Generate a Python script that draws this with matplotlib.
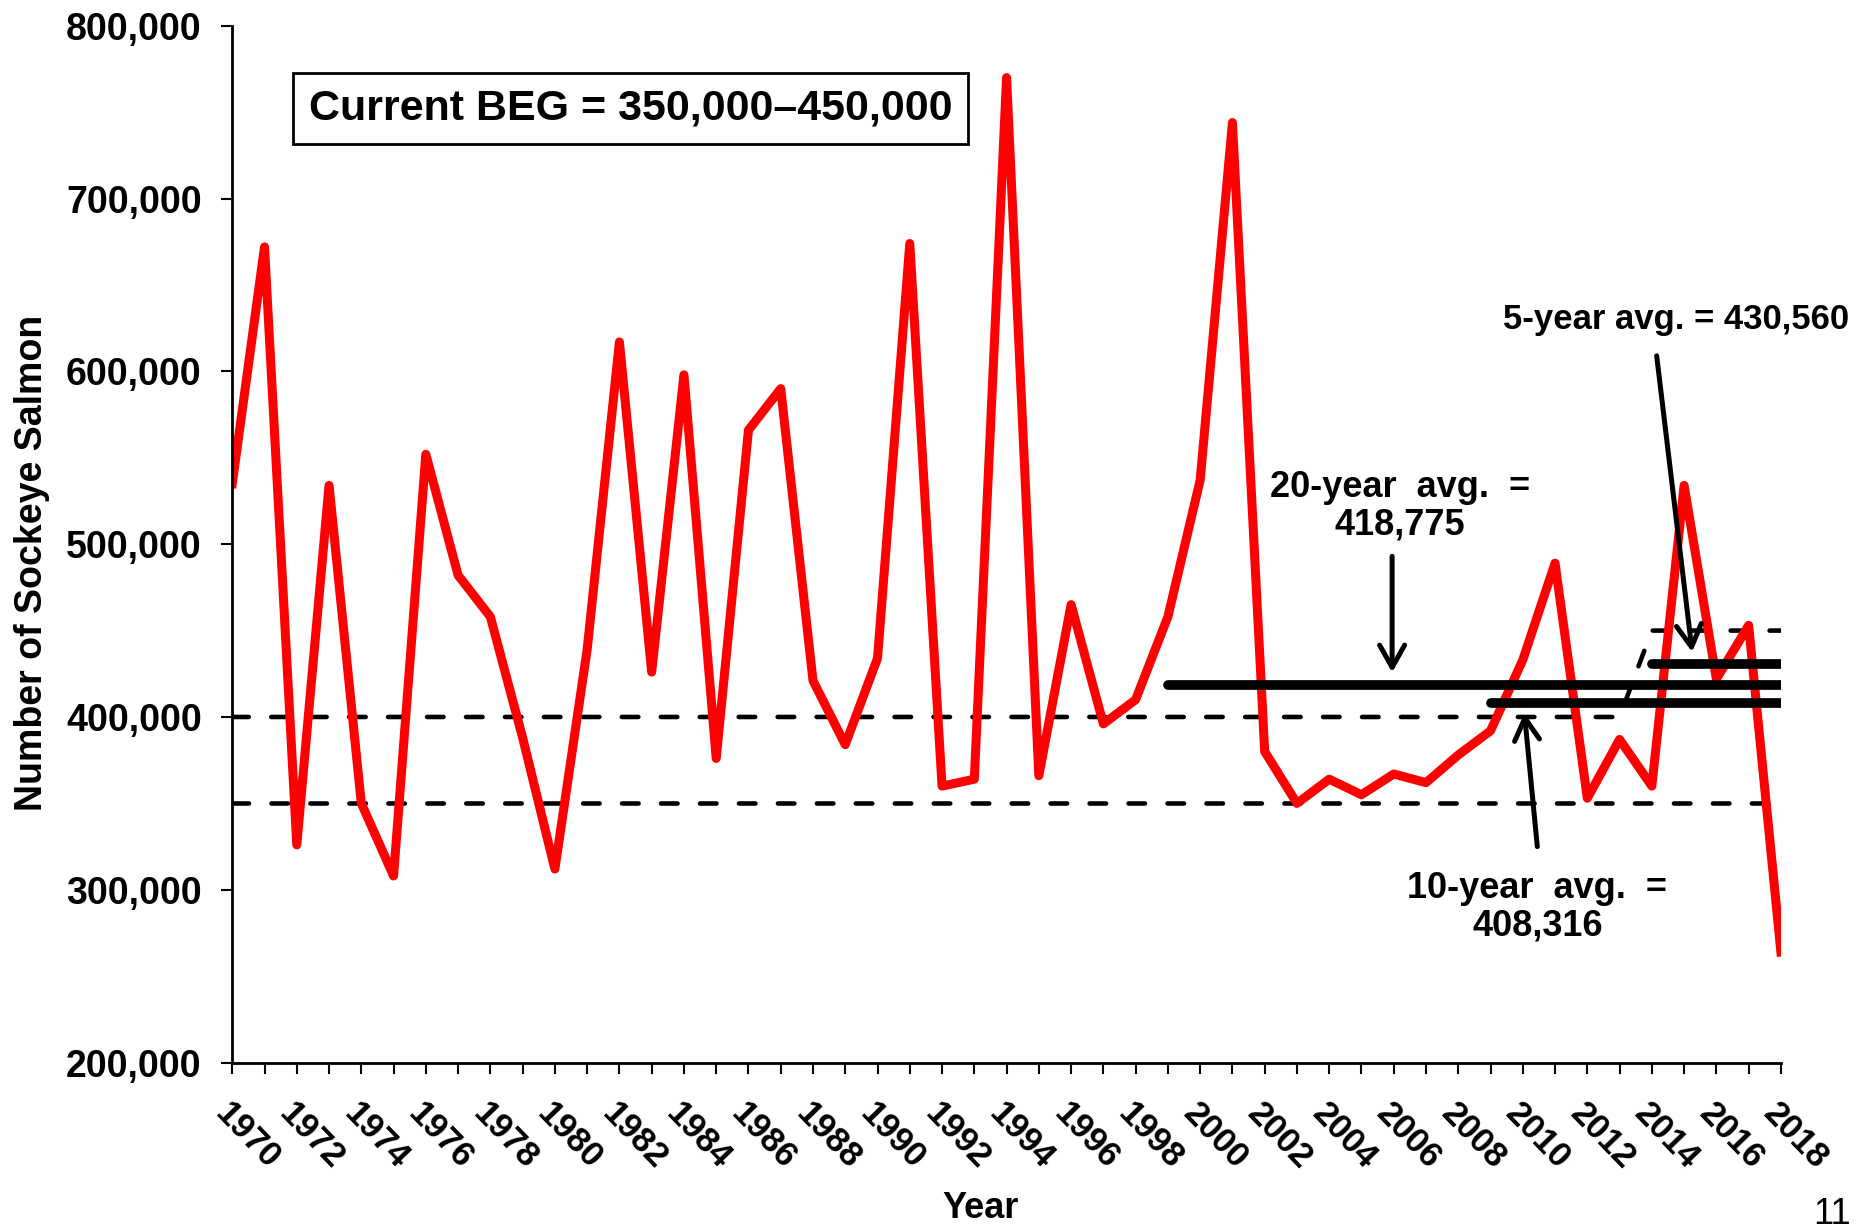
import matplotlib
matplotlib.use("Agg")
from matplotlib import pyplot as plt
from matplotlib.ticker import FuncFormatter, MultipleLocator

plt.rcParams['font.family'] = ['Liberation Sans', 'DejaVu Sans']
plt.rcParams['font.weight'] = 'bold'

years = list(range(1970, 2019))
escapement = [535000, 672000, 326000, 534000, 350000, 308000, 552000, 482000, 458000, 388000,
              312000, 439000, 617000, 426000, 598000, 376000, 566000, 590000, 421000, 384000,
              434000, 674000, 360000, 364000, 770000, 366000, 465000, 396000, 410000, 458000,
              537000, 744000, 380000, 350000, 364000, 355000, 367000, 362000, 378000, 392000,
              433000, 489000, 353000, 387000, 360000, 534000, 422000, 453000, 264000]

goal_years = [1970, 2013, 2014, 2018]
goal_upper = [400000, 400000, 450000, 450000]
goal_lower = 350000

avg_20 = 418775
avg_10 = 408316
avg_5 = 430560

fig = plt.figure(figsize=(18.58, 12.27), dpi=100)
ax = fig.add_axes([0.125, 0.134, 0.8335, 0.845])

dash = (0, (3.6, 4.9))
ax.plot(goal_years, goal_upper, color="black", lw=3.3, linestyle=dash, dash_capstyle="round")
ax.axhline(goal_lower, color="black", lw=3.3, linestyle=dash, dash_capstyle="round")

ax.plot(years, escapement, color="#ff0000", lw=6.5, solid_joinstyle="round")

ax.plot([1999, 2018], [avg_20, avg_20], color="black", lw=7, solid_capstyle="round")
ax.plot([2009, 2018], [avg_10, avg_10], color="black", lw=7, solid_capstyle="round")
ax.plot([2014, 2018], [avg_5, avg_5], color="black", lw=7, solid_capstyle="round")

arrow = dict(arrowstyle="->,head_length=0.8,head_width=0.45", color="black", lw=3.6,
             shrinkA=0, shrinkB=0, mutation_scale=20)
ax.annotate("", xy=(2005.95, avg_20 + 7000), xytext=(2005.95, 493000), arrowprops=arrow)
ax.annotate("", xy=(2010.05, avg_10 - 6000), xytext=(2010.45, 325000), arrowprops=arrow)
ax.annotate("", xy=(2015.25, avg_5 + 7000), xytext=(2014.15, 609000), arrowprops=arrow)

ax.text(2006.2, 522000, "20-year  avg.  =\n418,775", ha="center", va="center",
        fontsize=26, fontweight="bold", linespacing=1.1)
ax.text(2010.45, 290000, "10-year  avg.  =\n408,316", ha="center", va="center",
        fontsize=26, fontweight="bold", linespacing=1.1)
ax.text(2014.75, 630000, "5-year avg. = 430,560", ha="center", va="center",
        fontsize=25, fontweight="bold")

ax.text(0.257, 0.92, "Current BEG = 350,000\u2013450,000", transform=ax.transAxes,
        ha="center", va="center", fontsize=31, fontweight="bold",
        bbox=dict(boxstyle="square,pad=0.36", facecolor="white", edgecolor="black", lw=2))

ax.set_xlim(1970, 2018)
ax.set_ylim(200000, 800000)
ax.xaxis.set_major_locator(MultipleLocator(2))
ax.xaxis.set_minor_locator(MultipleLocator(1))
ax.yaxis.set_major_locator(MultipleLocator(100000))
ax.yaxis.set_major_formatter(FuncFormatter(lambda v, p: f"{int(v):,}"))

for s in ["top", "right"]:
    ax.spines[s].set_visible(False)
for s in ["left", "bottom"]:
    ax.spines[s].set_linewidth(2)

ax.tick_params(axis="y", which="major", direction="out", length=8, width=1.5, labelsize=27, pad=14)
ax.tick_params(axis="x", which="both", direction="out", length=8, width=1.5)
ax.tick_params(axis="x", which="major", labelsize=25, pad=17)
for lab in ax.get_xticklabels():
    lab.set_rotation(-46)
    lab.set_ha("left")
    lab.set_va("top")
    lab.set_rotation_mode("anchor")
    lab.set_fontweight("bold")
for lab in ax.get_yticklabels():
    lab.set_fontweight("bold")

ax.set_ylabel("Number of Sockeye Salmon", fontsize=27, fontweight="bold")
ax.yaxis.set_label_coords(-0.118, 0.482)
ax.set_xlabel("Year", fontsize=26, fontweight="bold")
ax.xaxis.set_label_coords(0.483, -0.124)

# page number, partly off the right edge as in the slide
fig.text(0.976, -0.004, "11", fontsize=26, fontweight="normal", ha="left", va="bottom")

fig.savefig("out.png", dpi=100)
